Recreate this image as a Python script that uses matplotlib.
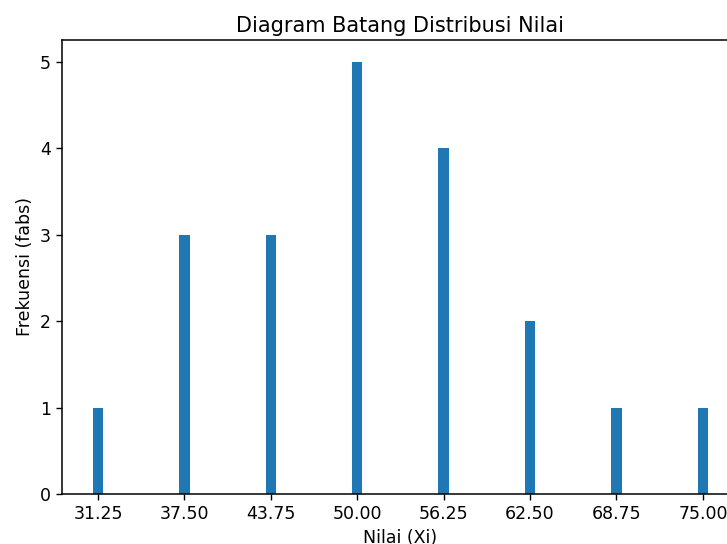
import matplotlib
matplotlib.use('Agg')
import matplotlib.pyplot as plt

# nilai tengah kelas dan frekuensi
nilai = [31.25, 37.50, 43.75, 50.00, 56.25, 62.50, 68.75, 75.00]
frekuensi = [1, 3, 3, 5, 4, 2, 1, 1]
tick_labels = ['31.25', '37.50', '43.75', '50.00', '56.25', '62.50', '68.75', '75.00']

fig = plt.figure(figsize=(7.27, 5.44), dpi=100)
ax = fig.add_axes([0.0853, 0.0919, 0.931, 0.8346])
ax.bar(nilai, frekuensi, width=0.75, color='#1f77b4')
ax.set_xticks(nilai)
ax.set_xticklabels(tick_labels)
ax.tick_params(labelsize=12.5, length=4.5, width=1)
ax.set_title('Diagram Batang Distribusi Nilai', fontsize=15)
ax.set_xlabel('Nilai (Xi)', fontsize=12.5)
ax.set_ylabel('Frekuensi (fabs)', fontsize=12.5)
for s in ax.spines.values():
    s.set_linewidth(1.1)

fig.savefig('out.png', dpi=100)
